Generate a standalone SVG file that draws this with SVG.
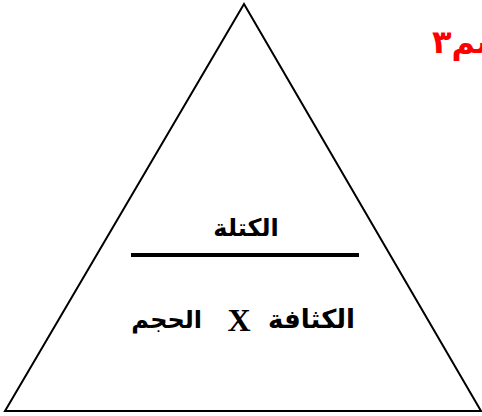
<svg xmlns="http://www.w3.org/2000/svg" width="482" height="416" viewBox="0 0 482 416">
<style>
.ar{font-family:"DejaVu Sans","Noto Sans",sans-serif;font-weight:bold;fill:#000}
.x{font-family:"Liberation Serif",serif;font-weight:bold;fill:#000}
.red{font-family:"DejaVu Sans",sans-serif;font-weight:bold;fill:#ff0000}
</style>
<rect width="482" height="416" fill="#fff"/>
<g id="triangle">
<polygon points="244,4 5,411 481,411" fill="none" stroke="#000" stroke-width="2"/>
</g>
<g id="fraction">
<line x1="131" y1="255" x2="359" y2="255" stroke="#000" stroke-width="4"/>
</g>
<g id="mass">
<text class="ar" x="246" y="236" font-size="24" text-anchor="middle" direction="rtl">الكتلة</text>
</g>
<g id="formula">
<text class="ar" x="355" y="328" font-size="26" text-anchor="start" direction="rtl">الكثافة</text>
<text class="x" x="239" y="331" font-size="32" text-anchor="middle">X</text>
<text class="ar" x="202" y="328" font-size="24" text-anchor="start" direction="rtl">الحجم</text>
</g>
<g id="unit">
<text class="red" x="508" y="53" font-size="32" text-anchor="start" direction="rtl">سم٣</text>
</g>
</svg>
